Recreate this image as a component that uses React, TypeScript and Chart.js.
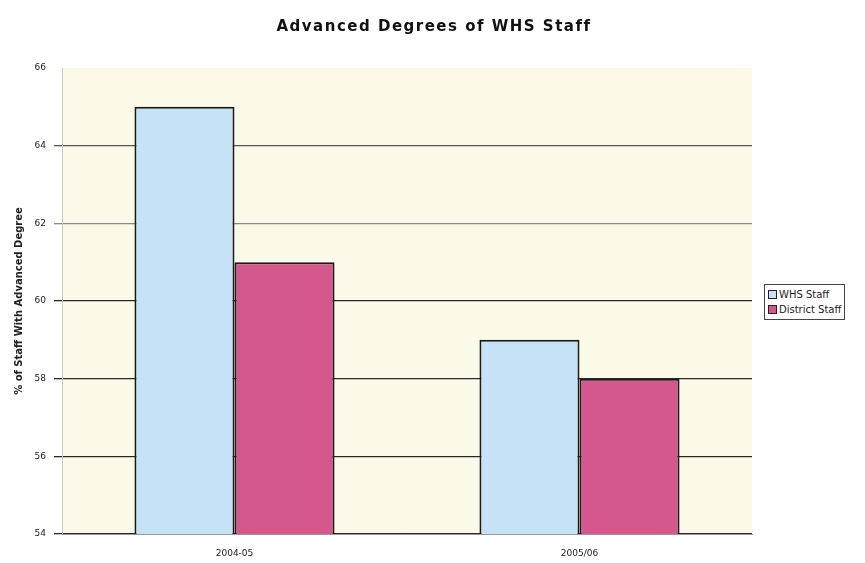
import React, { useEffect, useRef } from "react";
import { Chart, registerables } from "chart.js";
Chart.register(...registerables);

const categories = ["2004-05", "2005/06"];
const whsStaff = [65, 59];
const districtStaff = [61, 58];
const yTicks = [54, 56, 58, 60, 62, 64, 66];
const chartTitle = "Advanced Degrees of WHS Staff";
const yTitle = "% of Staff With Advanced Degree";
const seriesNames = ["WHS Staff", "District Staff"];
const seriesColors = ["#c6e2f7", "#d4588c"];

const plotBg = {
  id: "plotBg",
  beforeDraw(chart: any) {
    const { ctx, chartArea } = chart;
    ctx.save();
    ctx.fillStyle = "#fbfae8";
    ctx.fillRect(chartArea.left, chartArea.top, chartArea.right - chartArea.left, chartArea.bottom - chartArea.top);
    ctx.restore();
  },
  afterDraw(chart: any) {
    const { ctx } = chart;
    ctx.save();
    ctx.font = "bold 15px 'DejaVu Sans'";
    (ctx as any).letterSpacing = "1.5px";
    ctx.fillStyle = "#111";
    ctx.textAlign = "center";
    ctx.textBaseline = "middle";
    ctx.fillText(chartTitle, 434, 27);
    ctx.restore();
  },
};

export default function App() {
  const ref = useRef<HTMLCanvasElement>(null);
  useEffect(() => {
    const chart = new Chart(ref.current!, {
      type: "bar",
      data: {
        labels: categories,
        datasets: [
          {
            label: seriesNames[0],
            data: whsStaff,
            backgroundColor: seriesColors[0],
            borderColor: "#1a1a1a",
            borderWidth: 2,
            borderSkipped: "bottom",
          },
          {
            label: seriesNames[1],
            data: districtStaff,
            backgroundColor: seriesColors[1],
            borderColor: "#1a1a1a",
            borderWidth: 2,
            borderSkipped: "bottom",
          },
        ],
      },
      plugins: [plotBg],
      options: {
        animation: false,
        responsive: false,
        maintainAspectRatio: false,
        layout: { padding: { top: 68, right: 113, left: 0, bottom: 0 } },
        datasets: { bar: { categoryPercentage: 0.58, barPercentage: 1 } },
        plugins: {
          legend: { display: false },
          title: { display: false },
          tooltip: { enabled: false },
        },
        scales: {
          x: {
            grid: { display: false },
            border: { display: true, color: "#999" },
            ticks: { color: "#222", font: { family: "DejaVu Sans", size: 9 }, padding: 6 },
            afterFit(scale: any) {
              scale.height = 29;
            },
          },
          y: {
            min: 54,
            max: 66,
            afterBuildTicks(scale: any) {
              scale.ticks = yTicks.map((v) => ({ value: v }));
            },
            grid: {
              color: (c: any) =>
                c.tick && c.tick.value === 66
                  ? "rgba(0,0,0,0)"
                  : c.tick && c.tick.value === 62
                  ? "#888"
                  : c.tick && c.tick.value === 64
                  ? "#555"
                  : "#2a2a2a",
              lineWidth: 1.3,
              drawTicks: true,
              tickLength: 8,
            },
            border: { display: true, color: "#c8c8c8" },
            ticks: { color: "#222", font: { family: "DejaVu Sans", size: 9 }, padding: 8 },
            title: {
              display: true,
              text: yTitle,
              color: "#222",
              font: { family: "DejaVu Sans", size: 10, weight: "bold" },
              padding: { top: 13, bottom: 0 },
            },
            afterFit(scale: any) {
              scale.width = 62;
            },
          },
        },
      },
    });
    return () => chart.destroy();
  }, []);
  return (
    <div style={{ position: "absolute", left: 0, top: 0, width: 865, height: 563, background: "#fff", overflow: "hidden" }}>
      <canvas ref={ref} width={865} height={563} style={{ width: 865, height: 563 }} />
      <div
        style={{
          position: "absolute",
          left: 764,
          top: 284,
          border: "1px solid #444",
          padding: "2px 3px",
          fontFamily: "DejaVu Sans",
          fontSize: 10,
          color: "#222",
          lineHeight: "15px",
          background: "#fff",
        }}
      >
        {seriesNames.map((n, i) => (
          <div key={n} style={{ display: "flex", alignItems: "center", whiteSpace: "nowrap" }}>
            <span
              style={{
                display: "inline-block",
                width: 7,
                height: 7,
                background: seriesColors[i],
                border: "1.5px solid #222",
                marginRight: 2,
              }}
            />
            {n}
          </div>
        ))}
      </div>
    </div>
  );
}
